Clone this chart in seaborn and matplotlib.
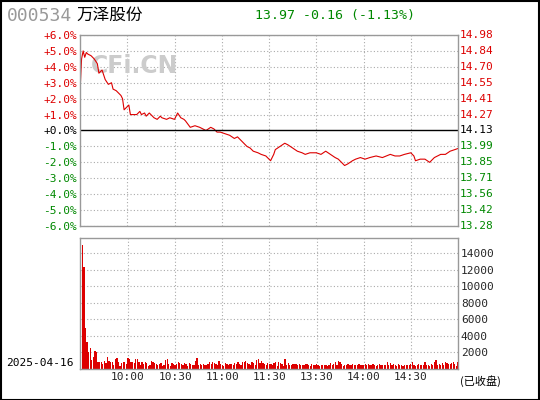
import numpy as np
import pandas as pd
import matplotlib
matplotlib.use("Agg")
import matplotlib.pyplot as plt
import seaborn as sns

sns.set_style("white")
plt.rcParams['font.family'] = ['DejaVu Sans', 'Noto Sans CJK SC']

# price path: minute index -> percent change
price_min = [0, 1, 2, 3, 4, 5, 7, 9, 11, 12, 14, 16, 18, 20, 21, 23, 24, 26, 27, 28, 29, 31, 32, 34, 36, 38,
             39, 41, 42, 44, 45, 47, 49, 51, 52, 55, 57, 60, 62, 64, 66, 67, 70, 73, 76, 78, 80, 83, 85, 87,
             89, 92, 95, 98, 100, 102, 104, 106, 108, 110, 113, 115, 118, 120, 121, 123, 124, 127, 130, 132,
             135, 138, 141, 143, 146, 150, 153, 156, 159, 162, 164, 166, 168, 170, 173, 175, 178, 181, 184,
             188, 192, 197, 200, 203, 206, 210, 212, 213, 216, 219, 222, 225, 229, 232, 235, 238, 240]
price_pct = [2.4, 4.5, 5.0, 4.6, 4.9, 4.8, 4.7, 4.5, 4.2, 3.6, 3.8, 3.2, 2.9, 3.0, 2.6, 2.5, 2.4, 2.2, 2.0, 1.3, 1.4, 1.6, 1.0, 1.0, 1.0, 1.2, 1.0,
             1.1, 0.9, 1.1, 1.0, 0.8, 0.7, 0.9, 0.8, 0.7, 0.8, 0.7, 1.1, 0.8, 0.7, 0.6, 0.2, 0.3, 0.2, 0.1, 0.0, 0.2, 0.1, -0.1,
             -0.1, -0.2, -0.3, -0.5, -0.4, -0.6, -0.8, -1.0, -1.1, -1.3, -1.4, -1.5, -1.6, -1.8, -1.9, -1.5, -1.2, -1.0, -0.8, -0.9,
             -1.1, -1.3, -1.4, -1.5, -1.4, -1.4, -1.5, -1.3, -1.5, -1.7, -1.8, -2.0, -2.2, -2.1, -1.9, -1.8, -1.7, -1.8, -1.7,
             -1.6, -1.7, -1.5, -1.6, -1.6, -1.5, -1.4, -1.6, -1.9, -1.8, -1.8, -2.0, -1.7, -1.5, -1.5, -1.3, -1.2, -1.13]

volume = [1800, 15000, 12300, 5000, 3300, 2000, 2500, 1100, 1500, 2200, 2000, 800, 900, 900, 600, 1000,
          700, 1400, 1000, 800, 900, 500, 1200, 1300, 900, 400, 700, 900, 800, 600, 1300, 1200,
          800, 900, 700, 1200, 1200, 900, 500, 800, 600, 800, 700, 400, 500, 1000, 800, 700,
          600, 500, 600, 700, 400, 500, 1100, 1200, 600, 400, 700, 600, 500, 600, 800, 700,
          600, 500, 700, 600, 400, 700, 600, 500, 500, 1000, 1300, 500, 600, 500, 600, 500,
          500, 600, 900, 600, 800, 700, 600, 500, 1000, 600, 500, 400, 700, 600, 500, 600,
          600, 500, 700, 600, 800, 600, 500, 900, 800, 1000, 700, 600, 500, 900, 700, 500,
          1100, 1200, 700, 1000, 700, 600, 500, 700, 600, 600, 500, 700, 900, 400, 800, 700,
          600, 400, 1200, 500, 700, 500, 500, 600, 600, 600, 500, 600, 500, 500, 500, 600,
          600, 500, 400, 600, 500, 500, 600, 500, 400, 500, 500, 500, 500, 400, 500, 700,
          500, 600, 800, 500, 1000, 800, 600, 400, 500, 500, 600, 500, 500, 600, 500, 500,
          500, 600, 500, 500, 500, 600, 500, 600, 500, 500, 600, 500, 400, 500, 600, 500,
          500, 500, 500, 800, 500, 700, 500, 600, 500, 400, 600, 500, 500, 400, 500, 500,
          500, 500, 600, 800, 500, 400, 500, 600, 500, 500, 500, 900, 500, 500, 400, 600,
          500, 800, 1100, 500, 600, 500, 700, 500, 800, 700, 600, 600, 700, 800, 600, 400,
          800, 900, 500, 400, 700, 600, 500, 400, 900, 600, 500, 700, 800, 500, 300, 900]
vol_min = list(range(len(volume)))

left_ticks = [6, 5, 4, 3, 2, 1, 0, -1, -2, -3, -4, -5, -6]
right_labels = ["14.98", "14.84", "14.70", "14.55", "14.41", "14.27", "14.13",
                "13.99", "13.85", "13.71", "13.56", "13.42", "13.28"]
time_ticks = [30, 60, 90, 120, 150, 180, 210]
time_labels = ["10:00", "10:30", "11:00", "11:30", "13:30", "14:00", "14:30"]
vol_ticks = [2000, 4000, 6000, 8000, 10000, 12000, 14000]

RED = "#dd0000"
GREEN = "#008800"
GRID = dict(color="#aaaaaa", linestyle=(0, (1, 2)), linewidth=0.8)
mono = ['DejaVu Sans Mono', 'Noto Sans CJK SC']

fig = plt.figure(figsize=(5.4, 4.0), dpi=100)
fig.patch.set_facecolor("white")
W, H = 540, 400
ax1 = fig.add_axes([80 / W, 1 - 226 / H, 378 / W, 191 / H])
ax2 = fig.add_axes([80 / W, 1 - 369 / H, 378 / W, 131 / H])

df = pd.DataFrame({"m": price_min, "p": price_pct})
sns.lineplot(data=df, x="m", y="p", ax=ax1, color=RED, linewidth=0.8)
ax1.set_xlim(0, 240)
ax1.set_ylim(-6, 6)
ax1.set_yticks(left_ticks)
ax1.set_xticks(time_ticks)
ax1.set_xticklabels([])
ax1.tick_params(length=0, pad=2)
ax1.set_yticklabels([("%+.1f%%" % t) if t != 0 else "+0.0%" for t in left_ticks], family=mono, fontsize=8)
for lab, t in zip(ax1.get_yticklabels(), left_ticks):
    lab.set_color(RED if t > 0 else (GREEN if t < 0 else "black"))
for t in left_ticks:
    if t != 0:
        ax1.axhline(t, **GRID, zorder=0)
for t in time_ticks:
    ax1.axvline(t, **GRID, zorder=0)
ax1.axhline(0, color="black", linewidth=1)
for t, lab in zip(left_ticks, right_labels):
    ax1.text(1.005, (t + 6) / 12, lab, transform=ax1.transAxes, ha="left", va="center", family=mono,
             fontsize=8, color=RED if t > 0 else (GREEN if t < 0 else "black"))
ax1.set_xlabel("")
ax1.set_ylabel("")
ax1.text(0.03, 0.8, "CFi.CN", transform=ax1.transAxes, fontsize=17, fontweight="bold", color="#cccccc", zorder=0)

vdf = pd.DataFrame({"m": vol_min, "v": volume})
sns.barplot(data=vdf, x="m", y="v", ax=ax2, native_scale=True, color=RED, width=0.8,
            saturation=1, linewidth=0)
ax2.set_xlim(-0.5, 240)
ax2.set_ylim(0, 15800)
ax2.set_xticks(time_ticks)
ax2.set_xticklabels(time_labels, family=mono, fontsize=8)
ax2.set_yticks(vol_ticks)
ax2.yaxis.tick_right()
ax2.set_yticklabels([str(v) for v in vol_ticks], family=mono, fontsize=8)
ax2.tick_params(length=0, pad=2)
for t in vol_ticks:
    ax2.axhline(t, **GRID, zorder=0)
for t in time_ticks:
    ax2.axvline(t, **GRID, zorder=0)
ax2.set_xlabel("")
ax2.set_ylabel("")

for ax in (ax1, ax2):
    for s in ax.spines.values():
        s.set_color("#999999")
        s.set_linewidth(1)

fig.text(7 / W, 1 - 16 / H, "000534", fontsize=13, color="#999999", va="center", family=mono)
fig.text(76 / W, 1 - 15 / H, "万泽股份", fontsize=12, color="black", va="center", family=['Noto Sans CJK SC'])
fig.text(255 / W, 1 - 15 / H, "13.97 -0.16 (-1.13%)", fontsize=9.5, color=GREEN, va="center", family=mono)
fig.text(6 / W, 1 - 363 / H, "2025-04-16", fontsize=8, color="black", va="center", family=mono)
fig.text(460 / W, 1 - 381 / H, "(已收盘)", fontsize=8, color="black", va="center", family=['Noto Sans CJK SC'])

fig.add_artist(plt.Rectangle((0.001, 0.001), 0.997, 0.997, transform=fig.transFigure, fill=False,
                             edgecolor="black", linewidth=1.5))

fig.savefig("out.png", dpi=100, facecolor="white")
